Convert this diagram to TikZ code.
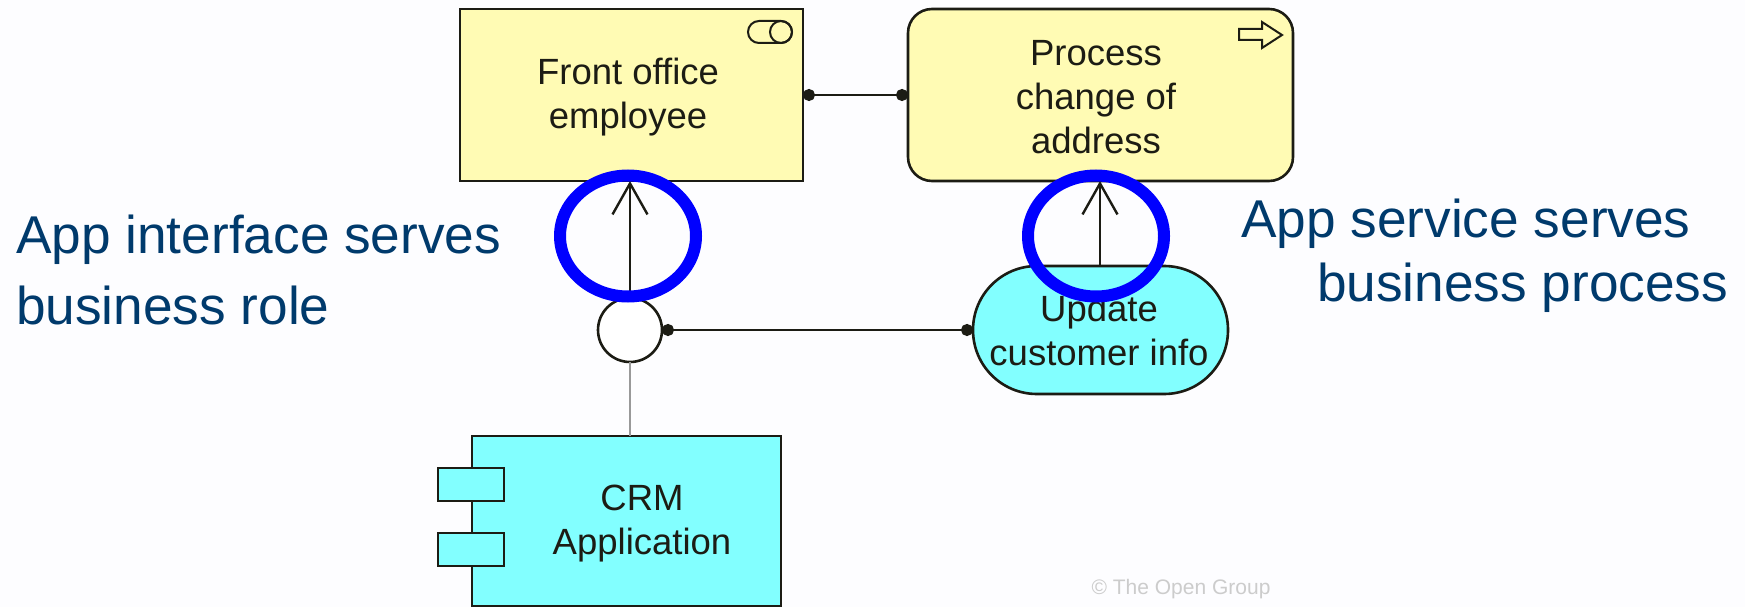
\documentclass[tikz,border=0pt]{standalone}
\usepackage{fontspec}
\setmainfont{Liberation Sans}
\usetikzlibrary{arrows.meta}
\definecolor{pagebg}{HTML}{FDFDFF}
\definecolor{bizyellow}{HTML}{FFFBB4}
\definecolor{appcyan}{HTML}{82FFFF}
\definecolor{notenavy}{HTML}{003A6C}
\definecolor{edgeblack}{HTML}{1C1C14}
\tikzset{
  elem/.style={draw=edgeblack,line width=2.6pt,inner sep=0pt,outer sep=0pt,anchor=north west},
  elemtext/.style={align=center,text=edgeblack,inner sep=0pt,font=\fontsize{36.5}{44}\selectfont},
  note/.style={align=left,anchor=west,inner sep=0pt,text=notenavy,font=\fontsize{53.2}{71}\selectfont},
  assoc/.style={draw=edgeblack,line width=2.6pt,{Circle[length=12pt]}-{Circle[length=12pt]}},
  serves/.style={draw=edgeblack,line width=2.6pt,-{Straight Barb[length=31pt,width=35pt,line width=2.4pt]}},
  markring/.style={draw=blue,line width=12pt},
}
\begin{document}
\begin{tikzpicture}[x=1pt,y=-1pt]
  \fill[pagebg,use as bounding box] (0,0) rectangle (1745,607);
  \begin{scope}
    \clip (0,0) rectangle (1745,607);
    % business layer
    \node[elem,fill=bizyellow,minimum width=343pt,minimum height=172pt] (role) at (460,9) {};
    \node[elem,fill=bizyellow,minimum width=385pt,minimum height=172pt,rounded corners=24pt] (process) at (908,9) {};
    \node[elemtext] (roletext) at (628,97.5) {Front office\\employee};
    \node[elemtext] (processtext) at (1096,97) {Process\\change of\\address};
    %
    \draw[edgeblack,line width=2pt,rounded corners=11pt] (748,21) rectangle (792,43);
    \draw[edgeblack,line width=2pt] (781,32) circle (11);
    \draw[edgeblack,line width=2pt,fill=bizyellow] (1239,29)--(1262,29)--(1262,22)--(1282,35)--(1262,48)--(1262,40)--(1239,40)--cycle;
    % application layer
    \node[elem,fill=appcyan,minimum width=255pt,minimum height=128pt,rounded corners=63.9pt] (update) at (973,266) {};
    \node[elem,fill=appcyan,minimum width=309pt,minimum height=170pt] (crm) at (472,436) {};
    \foreach \y in {468,533}{
      \draw[edgeblack,line width=2.6pt,fill=appcyan] (438,\y) rectangle (504,\y+33);
    }
    \node[elemtext] (updatetext) at (1099,330) {Update\\customer info};
    \node[elemtext] (crmtext) at (642,524) {CRM\\Application};
    \node[elem,anchor=center,circle,fill=white,minimum size=64pt] (iface) at (630,330) {};
    % connectors
    \coordinate (linky) at (0,95);
    \draw[assoc] (role.east|-linky) -- (process.west|-linky);
    \draw[assoc] (iface.east) -- (update.west);
    \draw[draw=gray!80,line width=2pt] (iface.south) -- (crm.north-|iface.south);
    \draw[serves] (iface.north) -- (role.south-|iface.north);
    \coordinate (upd) at (1100,266);
    \draw[serves] (upd) -- (process.south-|upd);
    % notes
    \node[note] (leftnote) at (16,270) {App interface serves\\business role};
    \node[note] (rightnote) at (1241,224) {App service serves};
    \node[note] (rightnotetwo) at (1317,288) {business process};
    \node[inner sep=0pt,text=gray!40,font=\fontsize{21}{21}\selectfont] (copyright) at (1181,589) {© The Open Group};
  \end{scope}
  % rings on top
  \draw[markring] (628,236) ellipse (68 and 60.5);
  \draw[markring] (1096,236) ellipse (68 and 60.5);
\end{tikzpicture}
\end{document}
